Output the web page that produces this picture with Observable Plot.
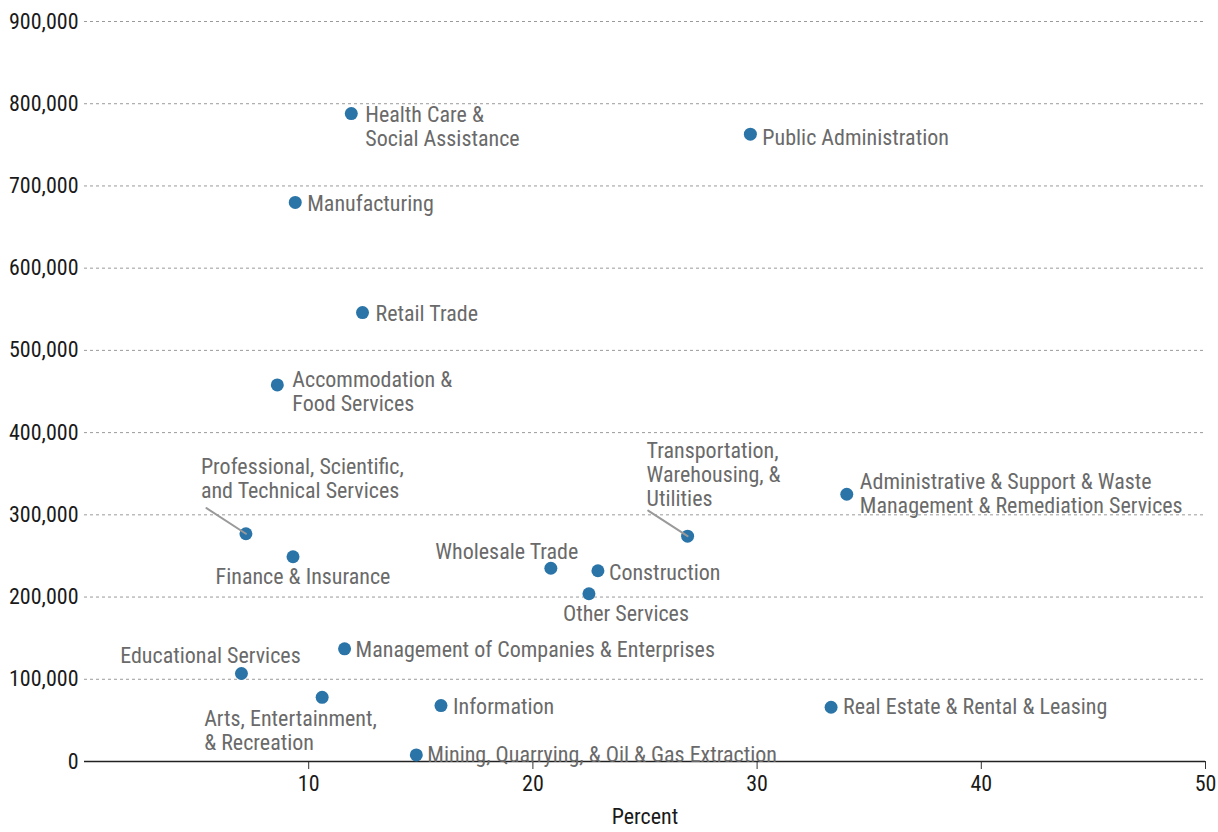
<!DOCTYPE html>
<html>
<head>
<meta charset="utf-8">
<script src="https://cdn.jsdelivr.net/npm/d3@7"></script>
<script src="https://cdn.jsdelivr.net/npm/@observablehq/plot@0.6"></script>
<style>
  html, body { margin: 0; padding: 0; background: #fff; }
  #chart svg { display: block; }
</style>
</head>
<body>
<div id="chart"></div>
<script>
// ---- data ----
const industries = [
  "Health Care &\nSocial Assistance",
  "Public Administration",
  "Manufacturing",
  "Retail Trade",
  "Accommodation &\nFood Services",
  "Professional, Scientific,\nand Technical Services",
  "Finance & Insurance",
  "Transportation,\nWarehousing, &\nUtilities",
  "Administrative & Support & Waste\nManagement & Remediation Services",
  "Wholesale Trade",
  "Construction",
  "Other Services",
  "Management of Companies & Enterprises",
  "Educational Services",
  "Arts, Entertainment,\n& Recreation",
  "Information",
  "Real Estate & Rental & Leasing",
  "Mining, Quarrying, & Oil & Gas Extraction"
];
const percent = [11.9, 29.7, 9.4, 12.4, 8.6, 7.2, 9.3, 26.9, 34.0, 20.8, 22.9, 22.5, 11.6, 7.0, 10.6, 15.9, 33.3, 14.8];
const workers = [788000, 763000, 680000, 546000, 458000, 277000, 249000, 274000, 325000, 235000, 232000, 204000, 137000, 107000, 78000, 68000, 66000, 8000];

const xTicks = [10, 20, 30, 40, 50];
const yTicks = [0, 100000, 200000, 300000, 400000, 500000, 600000, 700000, 800000, 900000];

// label placement (pixel offsets from each point)
const labelLayout = [
  {anchor: "start", dx: 14, dy: 13},
  {anchor: "start", dx: 12, dy: 3},
  {anchor: "start", dx: 12, dy: 1},
  {anchor: "start", dx: 13, dy: 1},
  {anchor: "start", dx: 15, dy: 6},
  {anchor: "start", dx: -45, dy: -55, leader: true},
  {anchor: "middle", dx: 10, dy: 20},
  {anchor: "start", dx: -41, dy: -62, leader: true},
  {anchor: "start", dx: 13, dy: -1},
  {anchor: "middle", dx: -44, dy: -17},
  {anchor: "start", dx: 11, dy: 2},
  {anchor: "middle", dx: 37, dy: 20},
  {anchor: "start", dx: 11, dy: 0},
  {anchor: "middle", dx: -31, dy: -18},
  {anchor: "start", dx: -118, dy: 33},
  {anchor: "start", dx: 12, dy: 1},
  {anchor: "start", dx: 12, dy: -1},
  {anchor: "start", dx: 11, dy: -1}
];

const rows = industries.map((name, i) => ({name, x: percent[i], y: workers[i], ...labelLayout[i]}));

const FONT = "'Liberation Sans Narrow', 'Arial Narrow', 'Roboto Condensed', sans-serif";
const labelColor = "#6a6a6a";
const dotColor = "#2a74a7";

const textMarks = rows.map(r => Plot.text([r], {
  x: "x", y: "y", text: "name",
  textAnchor: r.anchor, dx: r.dx, dy: r.dy,
  lineHeight: 1.09, fontSize: 22, fill: labelColor
}));

const leaders = rows.filter(r => r.leader);

const chart = Plot.plot({
  width: 1218,
  height: 832,
  marginLeft: 84,
  marginRight: 13,
  marginTop: 21,
  marginBottom: 71,
  style: {fontFamily: FONT, background: "#fff"},
  x: {domain: [0, 50]},
  y: {domain: [0, 900000]},
  marks: [
    Plot.gridY(yTicks.filter(d => d > 0), {stroke: "#9a9a9a", strokeOpacity: 1, strokeDasharray: "3,3", strokeWidth: 1}),
    Plot.axisY(yTicks, {tickSize: 0, tickPadding: 6, tickFormat: d3.format(","), fontSize: 22, fill: "#1a1a1a", label: null}),
    Plot.axisX(xTicks, {tickSize: 8, tickPadding: 6, fontSize: 22, fill: "#1a1a1a", stroke: "#333",
      label: "Percent", labelAnchor: "center", labelArrow: "none", labelOffset: 62}),
    Plot.ruleY([0], {stroke: "#222", strokeWidth: 1.5}),
    Plot.dot(rows, {x: "x", y: "y", r: 6.5, fill: dotColor, stroke: "none"}),
    Plot.vector(leaders, {x: "x", y: "y", shape: "spike", anchor: "start", r: 0,
      length: 47, rotate: -57,
      stroke: "#9a9a9a", strokeWidth: 2, fill: "none"}),
    ...textMarks
  ]
});

document.getElementById("chart").appendChild(chart);
</script>
</body>
</html>
